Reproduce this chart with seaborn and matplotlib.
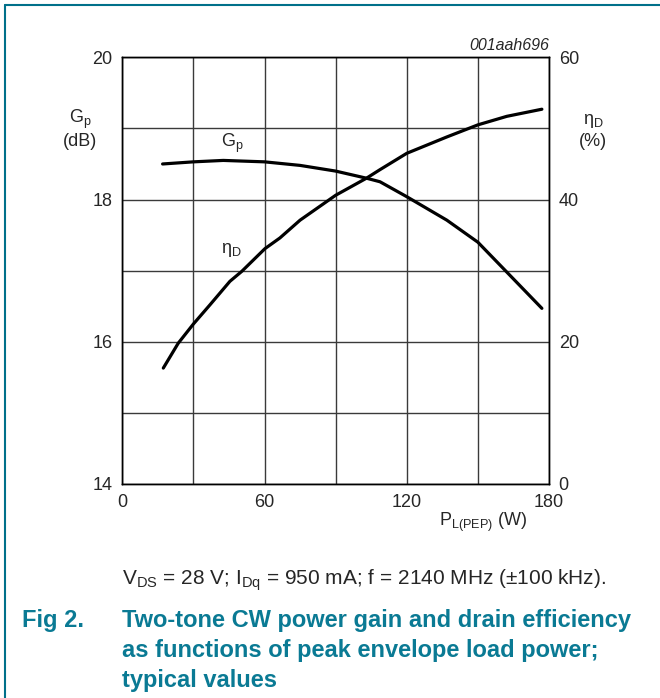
import numpy as np
import pandas as pd
import matplotlib.pyplot as plt
import seaborn as sns
from matplotlib.lines import Line2D

# load power P_L(PEP) in W
p_gain = [17, 30, 42.6, 60, 75, 90, 103, 108.7, 120, 136.9, 150, 162.2, 177]
gain_db = [18.50, 18.53, 18.55, 18.53, 18.48, 18.40, 18.30, 18.25, 18.04, 17.71, 17.40, 16.98, 16.47]

p_eff = [17.3, 23.6, 30, 37, 45.4, 50.4, 60.2, 66.5, 75, 90, 103, 108.7, 120, 136.9, 150, 162.2, 177]
eff_pct = [16.3, 19.8, 22.5, 25.2, 28.5, 29.9, 33.1, 34.6, 37.1, 40.6, 43.0, 44.2, 46.5, 48.8, 50.5, 51.7, 52.7]

x_ticks = [0, 60, 120, 180]
gain_ticks = [14, 16, 18, 20]
eff_ticks = [0, 20, 40, 60]

TEAL = '#0a7a94'

sns.set_style('white')
plt.rcParams['font.family'] = ['Liberation Sans', 'DejaVu Sans']
plt.rcParams['mathtext.default'] = 'regular'

fig = plt.figure(figsize=(6.6, 6.98), dpi=100)
ax = fig.add_axes([0.1853, 0.3066, 0.6465, 0.6113])
ax2 = ax.twinx()

gain = pd.DataFrame({'P': p_gain, 'G': gain_db})
eff = pd.DataFrame({'P': p_eff, 'eta': eff_pct})

sns.lineplot(data=gain, x='P', y='G', ax=ax, color='black', lw=2.3)
sns.lineplot(data=eff, x='P', y='eta', ax=ax2, color='black', lw=2.3)

ax.set_xlim(0, 180)
ax.set_ylim(14, 20)
ax2.set_ylim(0, 60)

ax.set_xticks(np.arange(0, 181, 30), minor=True)
ax.set_xticks(x_ticks)
ax.set_yticks(np.arange(14, 20.1, 1), minor=True)
ax.set_yticks(gain_ticks)
ax2.set_yticks(eff_ticks)
ax.grid(which='both', color='#3a3a3a', lw=1.0)
ax2.grid(False)

ax.set_xlabel('')
ax.set_ylabel('')
ax2.set_ylabel('')
ax.tick_params(which='both', length=0, labelsize=13)
ax.tick_params(axis='x', pad=7)
ax.tick_params(axis='y', pad=7)
ax2.tick_params(length=0, labelsize=13, pad=7)

for a in (ax, ax2):
    for s in a.spines.values():
        s.set_color('black')
        s.set_linewidth(1.0)

# curve labels
ax.text(46.3, 18.79, 'G$_p$', fontsize=13, ha='center', va='center')
ax.text(45.9, 17.29, r'$\eta_D$', fontsize=13, ha='center', va='center')

# axis titles
fig.text(80 / 660, 1 - 119 / 698, 'G$_p$', fontsize=13, ha='center', va='center')
fig.text(80 / 660, 1 - 141 / 698, '(dB)', fontsize=13, ha='center', va='center')
fig.text(593 / 660, 1 - 121 / 698, r'$\eta_D$', fontsize=13, ha='center', va='center')
fig.text(593 / 660, 1 - 142 / 698, '(%)', fontsize=13, ha='center', va='center')
fig.text(527 / 660, 1 - 522 / 698, 'P$_{L(PEP)}$ (W)', fontsize=13, ha='right', va='center')
fig.text(549 / 660, 1 - 45 / 698, '001aah696', fontsize=11.5, style='italic', ha='right', va='center')

# conditions and caption
fig.text(122 / 660, 1 - 580 / 698,
         r'V$_{DS}$ = 28 V; I$_{Dq}$ = 950 mA; f = 2140 MHz ($\pm$100 kHz).',
         fontsize=15, ha='left', va='center')
fig.text(22 / 660, 1 - 620 / 698, 'Fig 2.', fontsize=17, weight='bold', color=TEAL,
         ha='left', va='center')
for txt, yy in [('Two-tone CW power gain and drain efficiency', 620),
                ('as functions of peak envelope load power;', 651),
                ('typical values', 681)]:
    fig.text(122 / 660, 1 - yy / 698, txt, fontsize=17, weight='bold', color=TEAL,
             ha='left', va='center')

# open frame: top and left edges only
fig.add_artist(Line2D([4.5 / 660, 1], [1 - 4.5 / 698] * 2, color='#00708a', lw=1.5,
                      transform=fig.transFigure))
fig.add_artist(Line2D([4.5 / 660] * 2, [0, 1 - 4.5 / 698], color='#00708a', lw=1.5,
                      transform=fig.transFigure))

fig.savefig('out.png', dpi=100)
